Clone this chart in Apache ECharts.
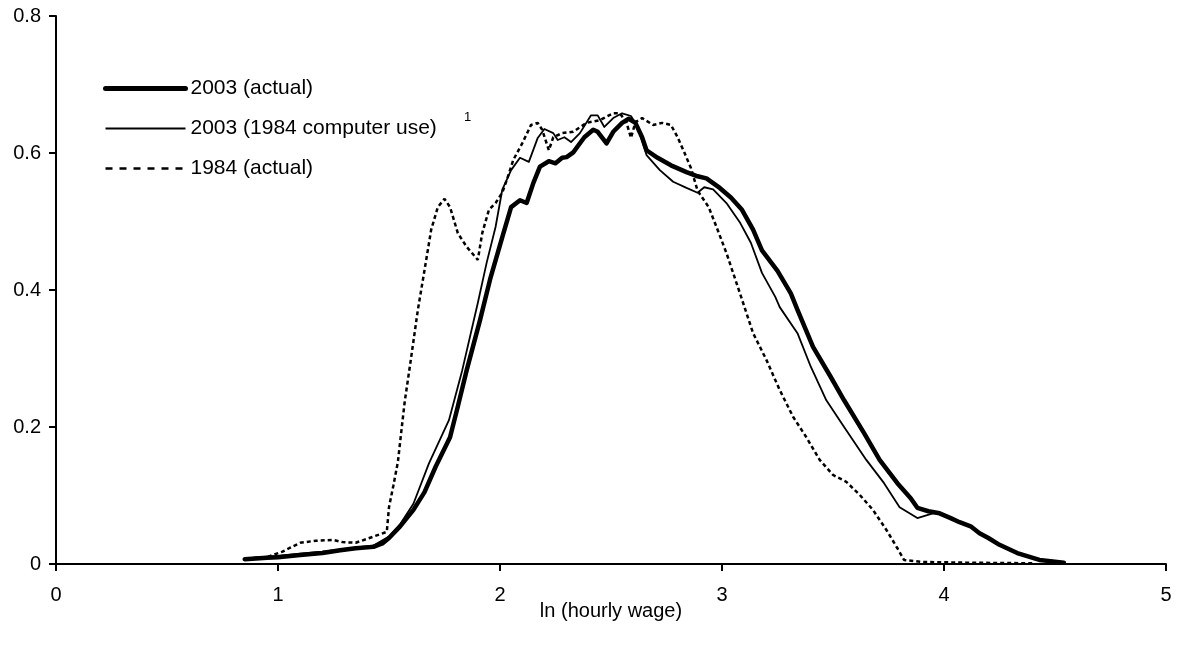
<!DOCTYPE html>
<html>
<head>
<meta charset="utf-8">
<script src="https://cdn.jsdelivr.net/npm/echarts@6/dist/echarts.min.js"></script>
<style>
html,body{margin:0;padding:0;background:#fff;}
#chart{width:1178px;height:650px;}
</style>
</head>
<body>
<div id="chart"></div>
<script>
// series names
var names = ['2003 (actual)', '2003 (1984 computer use)', '1984 (actual)'];

// 2003 (actual)
var x2003 = [0.85,0.95,1.00,1.10,1.20,1.28,1.35,1.43,1.47,1.50,1.55,1.61,1.66,1.71,1.775,1.81,1.85,1.91,1.955,2.01,2.05,2.09,2.12,2.15,2.18,2.22,2.25,2.28,2.30,2.33,2.38,2.42,2.44,2.48,2.51,2.55,2.58,2.61,2.64,2.66,2.71,2.77,2.84,2.89,2.93,2.99,3.04,3.09,3.14,3.18,3.25,3.31,3.34,3.41,3.49,3.55,3.64,3.71,3.79,3.85,3.88,3.93,3.98,4.03,4.07,4.12,4.16,4.20,4.25,4.33,4.43,4.54];
var y2003 = [0.007,0.009,0.010,0.013,0.016,0.020,0.023,0.025,0.030,0.038,0.055,0.079,0.105,0.142,0.185,0.230,0.283,0.356,0.415,0.477,0.521,0.531,0.527,0.556,0.580,0.588,0.585,0.593,0.594,0.601,0.623,0.634,0.631,0.614,0.631,0.644,0.650,0.644,0.623,0.604,0.593,0.582,0.572,0.566,0.563,0.549,0.535,0.517,0.488,0.458,0.428,0.395,0.371,0.317,0.273,0.239,0.191,0.152,0.118,0.096,0.082,0.077,0.074,0.067,0.061,0.055,0.045,0.038,0.028,0.016,0.006,0.002];

// 2003 (1984 computer use)
var xCf = [0.85,1.00,1.10,1.20,1.30,1.43,1.50,1.55,1.61,1.68,1.77,1.83,1.90,1.94,1.98,2.01,2.05,2.09,2.13,2.17,2.20,2.24,2.26,2.29,2.32,2.36,2.41,2.44,2.47,2.51,2.55,2.59,2.62,2.66,2.72,2.78,2.84,2.89,2.92,2.96,3.02,3.08,3.13,3.18,3.24,3.26,3.34,3.40,3.47,3.55,3.65,3.73,3.80,3.88,3.95,3.98,4.03,4.07,4.12,4.16,4.20,4.25,4.33,4.43,4.54];
var yCf = [0.008,0.012,0.015,0.018,0.022,0.027,0.040,0.058,0.088,0.147,0.210,0.283,0.381,0.440,0.492,0.546,0.575,0.593,0.587,0.622,0.635,0.629,0.619,0.623,0.616,0.629,0.655,0.655,0.638,0.651,0.658,0.654,0.638,0.597,0.575,0.558,0.549,0.542,0.550,0.547,0.527,0.499,0.469,0.425,0.390,0.375,0.337,0.288,0.239,0.200,0.152,0.118,0.083,0.067,0.074,0.074,0.067,0.061,0.055,0.045,0.038,0.028,0.016,0.006,0.002];

// 1984 (actual)
var x1984 = [0.86,0.95,1.02,1.05,1.10,1.17,1.25,1.29,1.35,1.43,1.49,1.50,1.52,1.54,1.57,1.60,1.63,1.66,1.69,1.72,1.75,1.775,1.81,1.85,1.90,1.92,1.95,1.98,2.01,2.03,2.06,2.10,2.14,2.17,2.19,2.22,2.24,2.28,2.33,2.39,2.45,2.51,2.54,2.57,2.59,2.61,2.64,2.69,2.73,2.77,2.80,2.83,2.86,2.89,2.94,2.98,3.02,3.08,3.14,3.20,3.26,3.32,3.38,3.44,3.50,3.56,3.62,3.68,3.74,3.79,3.82,3.90,4.10,4.40];
var y1984 = [0.008,0.010,0.018,0.023,0.031,0.034,0.035,0.032,0.031,0.040,0.047,0.083,0.115,0.149,0.235,0.302,0.371,0.429,0.488,0.521,0.533,0.521,0.483,0.463,0.444,0.483,0.517,0.527,0.542,0.560,0.590,0.614,0.641,0.644,0.634,0.604,0.623,0.629,0.631,0.644,0.648,0.658,0.658,0.644,0.622,0.645,0.651,0.641,0.644,0.641,0.623,0.601,0.578,0.545,0.521,0.488,0.454,0.396,0.337,0.298,0.254,0.215,0.185,0.152,0.130,0.120,0.101,0.079,0.050,0.023,0.006,0.003,0.002,0.001];

function pairs(xs, ys){
    var out = [];
    for(var i = 0; i < xs.length; i++){ out.push([xs[i], ys[i]]); }
    return out;
}

var font = '"Liberation Sans", Arial, sans-serif';
var chart = echarts.init(document.getElementById('chart'));
var option = {
    animation:false,
    textStyle:{fontFamily:font},
    grid:{left:56, right:12, top:16, bottom:86},
    legend:{
        orient:'vertical', left:98, top:73,
        itemWidth:80, itemHeight:21, itemGap:19,
        itemStyle:{opacity:0},
        textStyle:{color:'#000', fontSize:21, fontFamily:font},
        data:[
            {name:names[0], lineStyle:{width:5, color:'#000'}},
            {name:names[1], lineStyle:{width:2, color:'#000'}},
            {name:names[2], lineStyle:{width:2.5, color:'#000', type:[7,7]}}
        ]
    },
    // footnote marker next to the legend
    graphic:[{
        type:'text', left:464, top:111,
        style:{text:'1', fontSize:13, fill:'#000', fontFamily:font}
    }],
    xAxis:{
        type:'value', min:0, max:5, interval:1,
        name:'ln (hourly wage)', nameLocation:'middle', nameGap:37, nameMoveOverlap:false,
        nameTextStyle:{color:'#000', fontSize:20, fontFamily:font},
        axisLine:{lineStyle:{color:'#000', width:2}},
        axisTick:{inside:false, length:7, lineStyle:{color:'#000', width:2}},
        axisLabel:{color:'#000', fontSize:20, margin:21, fontFamily:font},
        splitLine:{show:false}
    },
    yAxis:{
        type:'value', min:0, max:0.8, interval:0.2,
        axisLine:{show:true, lineStyle:{color:'#000', width:2}},
        axisTick:{show:true, length:7, lineStyle:{color:'#000', width:2}},
        axisLabel:{color:'#000', fontSize:20, margin:15, fontFamily:font},
        splitLine:{show:false}
    },
    series:[
        {name:names[0], type:'line', showSymbol:false, symbol:'none', smooth:false,
         lineStyle:{color:'#000', width:4.5, join:'round', cap:'round'}, itemStyle:{color:'#000'}, z:3,
         data:pairs(x2003, y2003)},
        {name:names[1], type:'line', showSymbol:false, symbol:'none', smooth:false,
         lineStyle:{color:'#000', width:1.8, join:'round'}, itemStyle:{color:'#000'}, z:4,
         data:pairs(xCf, yCf)},
        {name:names[2], type:'line', showSymbol:false, symbol:'none', smooth:false,
         lineStyle:{color:'#000', width:2.5, type:[4,3]}, itemStyle:{color:'#000'}, z:2,
         data:pairs(x1984, y1984)}
    ]
};
chart.setOption(option);
</script>
</body>
</html>
